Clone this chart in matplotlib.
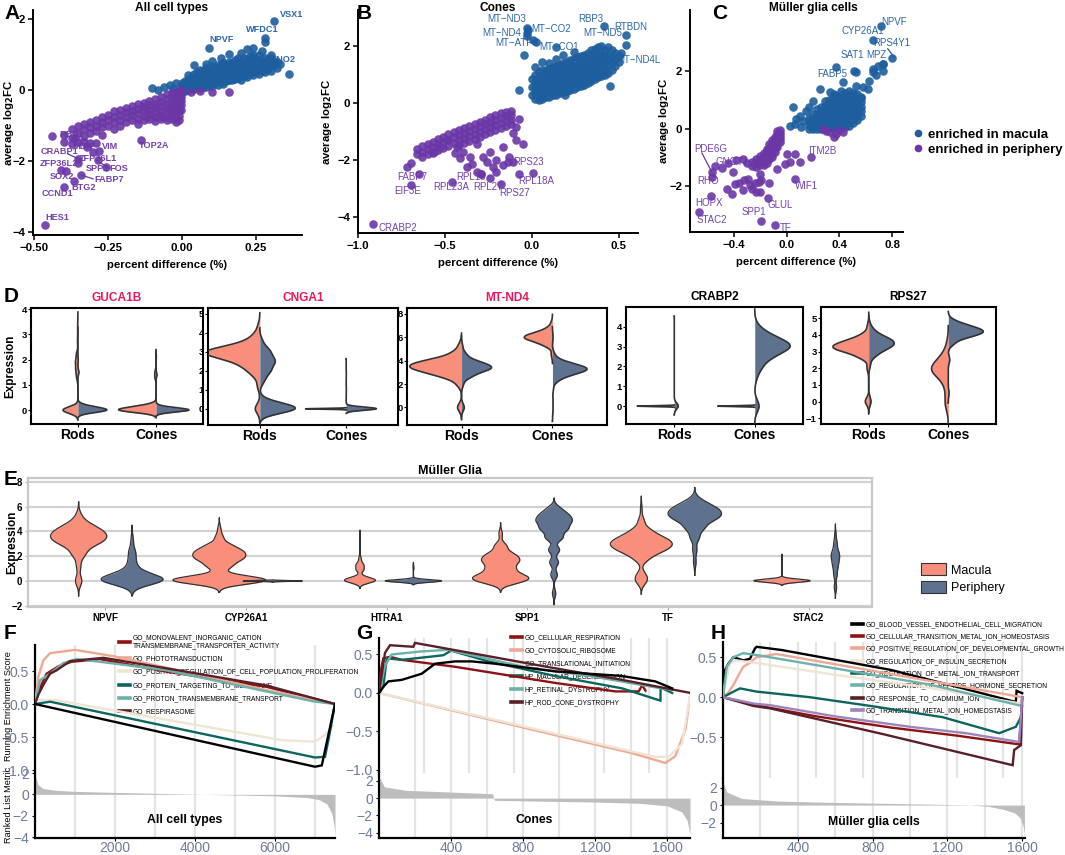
import numpy as np
import matplotlib
matplotlib.use("Agg")
import matplotlib.pyplot as plt
from matplotlib.lines import Line2D
from matplotlib.patches import Patch
from matplotlib.ticker import FuncFormatter, MultipleLocator

plt.rcParams['font.family'] = ['Liberation Sans', 'DejaVu Sans']

# ---------------------------------------------------------------- data: scatter A
A_MAC = {
    -0.10: [0.05], -0.08: [0.0], -0.06: [0.08], -0.04: [0.15], -0.03: [0.05], -0.02: [0.2],
    0.00: [-0.05, 0.05, 0.12, 0.2], 0.01: [-0.02, 0.08, 0.18, 0.26],
    0.02: [0.0, 0.1, 0.2, 0.3, 0.42], 0.03: [0.05, 0.15, 0.25, 0.35],
    0.04: [0.02, 0.12, 0.22, 0.32, 0.45, 0.72], 0.05: [0.08, 0.18, 0.28, 0.38, 0.5],
    0.06: [0.05, 0.15, 0.25, 0.35, 0.45, 0.58], 0.07: [0.1, 0.2, 0.3, 0.42, 0.55],
    0.08: [0.08, 0.18, 0.28, 0.38, 0.5, 0.62, 0.75], 0.09: [0.15, 0.25, 0.35, 0.45, 0.58, 1.2],
    0.10: [0.12, 0.22, 0.32, 0.42, 0.55, 0.68, 0.82], 0.11: [0.2, 0.3, 0.4, 0.5, 0.62],
    0.12: [0.15, 0.27, 0.37, 0.48, 0.6, 0.72], 0.13: [0.22, 0.34, 0.45, 0.56, 0.68, 0.9],
    0.14: [0.18, 0.3, 0.42, 0.52, 0.64, 0.78], 0.15: [0.25, 0.36, 0.48, 0.6, 0.72],
    0.16: [0.3, 0.42, 0.54, 0.66, 0.8, 1.02], 0.17: [0.28, 0.4, 0.52, 0.64, 0.76],
    0.18: [0.32, 0.45, 0.58, 0.7, 0.85], 0.19: [0.35, 0.5, 0.62, 0.75, 0.92],
    0.20: [0.3, 0.42, 0.55, 0.68, 0.8, 1.05], 0.21: [0.4, 0.52, 0.65, 0.78, 0.9],
    0.22: [0.38, 0.5, 0.62, 0.75, 0.88, 1.15], 0.23: [0.45, 0.58, 0.7, 0.82, 0.95],
    0.24: [0.42, 0.55, 0.68, 0.8, 1.0, 1.2], 0.25: [0.5, 0.62, 0.75, 0.88],
    0.26: [0.45, 0.6, 0.72, 0.85, 0.98], 0.27: [0.55, 0.7, 0.82, 1.1],
    0.28: [0.5, 0.65, 0.8, 0.92, 1.35, 1.48], 0.29: [0.6, 0.75, 0.88],
    0.30: [0.55, 0.72, 0.9, 1.0], 0.31: [0.7, 0.82, 1.95], 0.32: [0.62, 0.8],
    0.33: [0.75], 0.36: [0.45],
}
A_PER = {
    -0.463: [-3.81], -0.44: [-1.3], -0.41: [-2.25], -0.40: [-1.25, -1.45, -2.74],
    -0.39: [-2.27], -0.37: [-1.1, -1.35, -1.51], -0.366: [-2.55], -0.36: [-1.35],
    -0.35: [-1.0, -1.2, -1.45, -1.95, -2.05], -0.34: [-2.39], -0.33: [-0.95, -1.1, -1.3, -1.45],
    -0.32: [-1.6], -0.31: [-0.9, -1.05, -1.2, -1.5], -0.30: [-1.73], -0.29: [-0.85, -1.0, -1.15, -1.49],
    -0.285: [-1.96], -0.28: [-1.7], -0.27: [-0.75, -0.9, -1.05, -1.25], -0.255: [-2.15],
    -0.25: [-0.7, -0.85, -1.0], -0.23: [-0.6, -0.75, -0.9, -1.1], -0.21: [-0.55, -0.7, -0.85, -1.0],
    -0.19: [-0.5, -0.62, -0.75, -0.9], -0.17: [-0.45, -0.58, -0.7, -0.85],
    -0.15: [-0.4, -0.52, -0.65, -0.8, -0.95], -0.14: [-1.4], -0.13: [-0.35, -0.48, -0.6, -0.72, -0.85],
    -0.11: [-0.3, -0.42, -0.55, -0.68, -0.8], -0.09: [-0.25, -0.38, -0.5, -0.62, -0.75, -0.88],
    -0.07: [-0.2, -0.32, -0.45, -0.58, -0.7, -0.82], -0.05: [-0.12, -0.25, -0.38, -0.5, -0.62, -0.75, -0.85],
    -0.035: [-0.08, -0.2, -0.32, -0.45, -0.58, -0.7, -0.82],
    -0.02: [-0.05, -0.15, -0.28, -0.4, -0.52, -0.65, -0.78, -0.9],
    -0.01: [-0.02, -0.12, -0.22, -0.35, -0.48, -0.6, -0.72, -0.85],
    -0.003: [0.0, -0.1, -0.2, -0.3, -0.42, -0.55],
    0.03: [-0.05], 0.06: [-0.02], 0.10: [-0.05], 0.16: [-0.05],
}
A_MAC_GENES = [('VSX1', 0.33, 2.12), ('WFDC1', 0.217, 1.72), ('NPVF', 0.094, 1.44), ('ENO2', 0.298, 0.87)]
A_PER_GENES = [('RPL', -0.117, -0.79), ('RBP1', -0.415, -1.26), ('CRABP1', -0.476, -1.73),
               ('MDK', -0.37, -1.59), ('VIM', -0.269, -1.59), ('ZFP36L1', -0.347, -1.92),
               ('ZFP36L2', -0.479, -2.06), ('SPP1', -0.325, -2.22), ('FOS', -0.246, -2.22),
               ('SOX2', -0.445, -2.43), ('FABP7', -0.297, -2.53), ('BTG2', -0.375, -2.74),
               ('CCND1', -0.474, -2.9), ('HES1', -0.462, -3.6), ('TOP2A', -0.145, -1.56)]
A_LEADERS = [((-0.387, -1.79), (-0.348, -1.94)), ((-0.286, -1.99), (-0.246, -2.2)),
             ((-0.34, -2.39), (-0.30, -2.5))]

# ---------------------------------------------------------------- data: scatter B
B_MAC = {
    -0.072: [0.46], -0.045: [1.68], -0.03: [2.64, 2.45, 2.34], -0.02: [2.55], 0.004: [2.21],
    0.023: [2.15], 0.136: [1.98], 0.38: [2.77], 0.415: [2.69], 0.54: [2.39, 2.04], 0.51: [1.77],
    0.45: [0.6], 0.193: [0.28],
    0.00: [0.3, 0.55, 0.85], 0.02: [0.15, 0.35, 0.55, 0.75, 1.0, 1.25],
    0.04: [0.12, 0.3, 0.5, 0.7, 0.9, 1.1], 0.06: [0.15, 0.33, 0.52, 0.72, 0.92, 1.15, 1.45],
    0.08: [0.2, 0.38, 0.56, 0.75, 0.95, 1.15], 0.10: [0.22, 0.4, 0.6, 0.8, 1.0, 1.2, 1.4],
    0.12: [0.28, 0.46, 0.65, 0.85, 1.05, 1.25], 0.14: [0.3, 0.5, 0.7, 0.9, 1.1, 1.3, 1.55],
    0.16: [0.35, 0.55, 0.75, 0.95, 1.15, 1.35], 0.18: [0.38, 0.58, 0.78, 0.98, 1.18, 1.4, 1.7],
    0.20: [0.42, 0.62, 0.82, 1.02, 1.22, 1.45], 0.22: [0.45, 0.66, 0.86, 1.06, 1.26, 1.5],
    0.24: [0.5, 0.7, 0.9, 1.1, 1.3, 1.55, 1.8], 0.26: [0.55, 0.75, 0.95, 1.15, 1.35, 1.6],
    0.28: [0.6, 0.8, 1.0, 1.2, 1.4, 1.65], 0.30: [0.65, 0.85, 1.05, 1.25, 1.45, 1.7],
    0.32: [0.72, 0.92, 1.12, 1.32, 1.52, 1.75], 0.34: [0.78, 0.98, 1.18, 1.38, 1.6, 1.85],
    0.36: [0.85, 1.05, 1.25, 1.45, 1.65, 1.9], 0.38: [0.9, 1.1, 1.3, 1.5, 1.7, 1.95],
    0.40: [0.95, 1.15, 1.35, 1.55, 1.75, 2.0], 0.42: [1.0, 1.2, 1.45, 1.65, 1.85],
    0.44: [1.05, 1.3, 1.5, 1.7, 1.95], 0.46: [1.15, 1.4, 1.6, 1.85], 0.48: [1.3, 1.55, 1.75],
    0.50: [1.45, 1.65],
}
B_PER = {
    -0.915: [-4.25], -0.716: [-2.23], -0.697: [-2.09, -2.88], -0.65: [-2.47],
    -0.66: [-1.6, -1.8], -0.63: [-1.5, -1.7, -1.9], -0.60: [-1.45, -1.62, -1.8],
    -0.57: [-1.35, -1.55, -1.75], -0.564: [-1.71], -0.54: [-1.25, -1.45, -1.65], -0.527: [-1.53],
    -0.51: [-1.18, -1.38, -1.58], -0.489: [-1.30], -0.48: [-1.1, -1.3, -1.5], -0.46: [-2.76],
    -0.45: [-1.02, -1.2, -1.4], -0.441: [-1.76], -0.432: [-1.53], -0.42: [-0.95, -1.12, -1.3, -1.48],
    -0.413: [-1.94], -0.394: [-1.71], -0.39: [-0.88, -1.05, -1.22, -1.4], -0.375: [-2.23],
    -0.36: [-0.8, -0.98, -1.15, -1.32], -0.356: [-1.88], -0.347: [-2.12], -0.33: [-0.72, -0.9, -1.08, -1.25],
    -0.318: [-1.42, -2.41], -0.30: [-0.65, -0.82, -1.0, -1.18], -0.295: [-2.47], -0.29: [-2.47],
    -0.28: [-1.88], -0.27: [-0.58, -0.75, -0.92, -1.1], -0.261: [-2.06], -0.242: [-1.71, -2.64],
    -0.24: [-0.5, -0.68, -0.85, -1.02], -0.223: [-2.23], -0.21: [-0.42, -0.6, -0.78, -0.95],
    -0.205: [-2.0, -2.41], -0.18: [-0.35, -0.52, -0.7, -0.88], -0.176: [-2.82], -0.167: [-1.53, -2.18],
    -0.15: [-0.3, -0.46, -0.62, -0.8], -0.138: [-2.06], -0.129: [-1.88], -0.12: [-0.28, -0.42, -0.58, -0.75],
    -0.11: [-1.06, -2.06], -0.091: [-1.3, -0.83], -0.072: [-0.54, -2.47], -0.053: [-1.42], 0.004: [-2.44],
}
B_MAC_GENES = [('MT\u2212ND3', -0.258, 2.94), ('MT\u2212ND4', -0.284, 2.44), ('MT\u2212ATP6', -0.21, 2.09),
               ('MT\u2212CO2', -0.002, 2.58), ('MT\u2212CO1', 0.042, 1.98), ('RBP3', 0.265, 2.94),
               ('MT\u2212ND5', 0.293, 2.47), ('RTBDN', 0.473, 2.65), ('MT\u2212ND4L', 0.483, 1.51)]
B_PER_GENES = [('RPS23', -0.11, -2.08), ('FABP7', -0.777, -2.58), ('RPL19', -0.436, -2.58),
               ('RPL18A', -0.078, -2.73), ('RPL23A', -0.568, -2.94), ('RPL27', -0.337, -2.94),
               ('RPS27', -0.186, -3.14), ('EIF3E', -0.792, -3.09), ('CRABP2', -0.88, -4.36)]

# ---------------------------------------------------------------- data: scatter C
C_MAC = {
    0.023: [0.1], 0.048: [0.74], 0.06: [0.16], 0.073: [0.33], 0.098: [0.45], 0.11: [0.05],
    0.123: [0.28], 0.148: [0.63], 0.173: [0.74], 0.198: [0.97],
    0.17: [0.0, 0.12, 0.25, 0.38], 0.20: [-0.02, 0.1, 0.22, 0.35, 0.5],
    0.23: [0.0, 0.12, 0.25, 0.38, 0.52, 0.68], 0.249: [1.38],
    0.26: [-0.03, 0.08, 0.2, 0.32, 0.45, 0.6, 0.75], 0.29: [0.02, 0.14, 0.26, 0.38, 0.5, 0.64, 0.8, 0.95],
    0.32: [0.05, 0.17, 0.3, 0.43, 0.56, 0.7, 0.85, 1.0], 0.325: [1.26],
    0.35: [0.02, 0.14, 0.26, 0.4, 0.54, 0.68, 0.82, 0.98, 1.1], 0.362: [1.2], 0.375: [2.16],
    0.38: [0.05, 0.18, 0.3, 0.44, 0.58, 0.72, 0.86, 1.02, 1.15], 0.412: [0.97],
    0.41: [0.04, 0.16, 0.28, 0.42, 0.56, 0.7, 0.85, 1.0, 1.18, 1.3], 0.425: [1.61],
    0.44: [0.06, 0.2, 0.34, 0.48, 0.62, 0.77, 0.92, 1.08, 1.25],
    0.47: [0.1, 0.24, 0.38, 0.52, 0.66, 0.8, 0.95, 1.12, 1.3], 0.50: [0.2, 0.34, 0.48, 0.62, 0.78, 0.94, 1.1, 1.25],
    0.513: [1.99], 0.525: [1.5, 1.96], 0.53: [0.3, 0.45, 0.6, 0.75, 0.9, 1.05, 1.2],
    0.56: [0.45, 0.6, 0.75, 0.92, 1.08], 0.564: [1.09], 0.576: [1.44], 0.614: [1.38], 0.626: [1.67],
    0.65: [3.07], 0.652: [1.96, 2.08], 0.677: [1.85], 0.69: [2.19], 0.71: [3.59], 0.727: [2.25, 2.02],
    0.73: [2.26], 0.80: [2.45],
}
C_PER = {
    -0.66: [-2.9], -0.57: [-2.35], -0.566: [-1.52, -1.68], -0.54: [-1.3], -0.49: [-1.36],
    -0.45: [-2.1], -0.44: [-1.2], -0.41: [-2.27], -0.405: [-1.52], -0.39: [-1.93], -0.38: [-1.1],
    -0.36: [-1.88], -0.33: [-1.05, -2.15], -0.32: [-1.78], -0.30: [-1.2], -0.29: [-1.75],
    -0.28: [-1.97], -0.26: [-1.15, -1.3, -2.1], -0.24: [-1.88], -0.23: [-1.05, -1.2, -1.35, -2.2],
    -0.205: [-1.86], -0.20: [-0.95, -1.1, -1.25, -1.58, -2.2], -0.19: [-1.8, -3.2],
    -0.17: [-0.85, -0.98, -1.1, -1.25], -0.15: [-0.7, -0.82, -0.95, -1.08, -1.2],
    -0.14: [-2.41], -0.13: [-0.55, -0.68, -0.8, -0.92, -1.05, -1.88],
    -0.11: [-0.4, -0.52, -0.65, -0.78, -0.9, -1.0], -0.09: [-0.3, -0.42, -0.55, -0.68, -0.8, -3.36],
    -0.075: [-1.4], -0.07: [-0.1, -0.2, -0.3, -0.4, -0.52, -0.65], -0.05: [-0.05, -0.15, -0.25, -0.35, -0.45],
    -0.015: [-1.23], 0.0: [-0.88], 0.025: [-1.15], 0.06: [-1.75], 0.063: [-0.9], 0.10: [-1.17],
    0.185: [-1.0], 0.274: [-0.01], 0.30: [-0.1], 0.325: [-0.13], 0.362: [-0.3], 0.375: [-0.19],
    0.40: [-0.05], 0.425: [-0.13],
}
C_MAC_GENES = [('NPVF', 0.714, 3.70), ('CYP26A1', 0.418, 3.41), ('RPS4Y1', 0.652, 2.97),
               ('SAT1', 0.405, 2.58), ('MPZ', 0.60, 2.58), ('FABP5', 0.229, 1.91)]
C_PER_GENES = [('ITM2B', 0.166, -0.77), ('WIF1', 0.06, -1.99), ('GLUL', -0.141, -2.65),
               ('SPP1', -0.337, -2.91), ('TF', -0.053, -3.47), ('PDE6G', -0.70, -0.71),
               ('GNGT1', -0.536, -1.15), ('RHO', -0.672, -1.84), ('HOPX', -0.687, -2.60),
               ('STAC2', -0.68, -3.17)]
C_LEADERS = [((-0.64, -0.85), (-0.566, -1.5)), ((0.765, 2.78), (0.815, 2.47))]

# ---------------------------------------------------------------- data: violins D
D_GENES = ['GUCA1B', 'CNGA1', 'MT-ND4', 'CRABP2', 'RPS27']
D_CELLS = ['Rods', 'Cones']
D_DATA = {
    ('GUCA1B', 'Rods', 'Macula'): ([0, 1.3, 1.6, 1.9, 2.2, 2.7, 3.2, 3.5], [30, 2.5, 4, 4.5, 3, 0.8, 0.5, 0.4]),
    ('GUCA1B', 'Rods', 'Periphery'): ([0, 0.15, 1.5, 2.0, 3.0], [40, 10, 1.5, 0.5, 0.2]),
    ('GUCA1B', 'Cones', 'Macula'): ([0, 0.15, 1.3, 1.5, 2.1], [30, 10, 1, 1, 0.3]),
    ('GUCA1B', 'Cones', 'Periphery'): ([0, 0.1, 1.4, 2.1], [40, 8, 1.2, 0.3]),
    ('CNGA1', 'Rods', 'Macula'): ([0, 1.2, 1.8, 2.2, 2.6, 2.9, 3.1, 3.4, 3.8, 4.3], [1.2, 0.6, 1.5, 3, 5, 7, 6, 3, 1.5, 0.5]),
    ('CNGA1', 'Rods', 'Periphery'): ([0, 0.3, 1.5, 2.0, 2.5, 3.0, 3.5], [12, 3, 1.5, 3.5, 5, 3.5, 1]),
    ('CNGA1', 'Cones', 'Macula'): ([0], [1]),
    ('CNGA1', 'Cones', 'Periphery'): ([0, 0.08, 1.0, 1.8, 2.4], [50, 8, 0.3, 0.3, 0.2]),
    ('MT-ND4', 'Rods', 'Macula'): ([0, 2.0, 2.7, 3.2, 3.6, 4.0, 4.6, 5.3], [0.8, 0.8, 3, 5, 5.5, 4, 1.5, 0.5]),
    ('MT-ND4', 'Rods', 'Periphery'): ([0, 2.0, 2.7, 3.2, 3.5, 3.9, 4.5, 5.2], [1, 0.6, 3, 5, 6, 4, 1.5, 0.4]),
    ('MT-ND4', 'Cones', 'Macula'): ([4.5, 5.3, 5.7, 6.0, 6.3, 6.7, 7.2], [0.3, 1.5, 3, 4, 3, 1.2, 0.3]),
    ('MT-ND4', 'Cones', 'Periphery'): ([-0.3, 0.5, 1.5, 2.3, 2.8, 3.2, 3.5, 3.9, 4.5, 6.0], [0.15, 0.15, 0.2, 1, 3, 5, 4, 2, 0.5, 0.15]),
    ('CRABP2', 'Rods', 'Macula'): ([0], [1]),
    ('CRABP2', 'Rods', 'Periphery'): ([0, 0.05, 1, 2, 3, 4.1], [60, 10, 0.3, 0.3, 0.3, 0.3]),
    ('CRABP2', 'Cones', 'Macula'): ([0], [1]),
    ('CRABP2', 'Cones', 'Periphery'): ([0, 1.5, 2.0, 2.5, 2.9, 3.2, 3.6, 4.0], [1.2, 0.5, 1.5, 3, 5, 5, 2.5, 0.6]),
    ('RPS27', 'Rods', 'Macula'): ([0, 2.0, 2.7, 3.1, 3.4, 3.7, 4.0, 4.5], [0.8, 0.4, 2, 5, 5, 2.5, 1, 0.3]),
    ('RPS27', 'Rods', 'Periphery'): ([0, 2.2, 2.8, 3.2, 3.5, 3.8, 4.2, 4.6], [0.8, 0.5, 2, 4, 5, 4, 1.5, 0.4]),
    ('RPS27', 'Cones', 'Macula'): ([-0.3, 0.3, 1.0, 1.6, 2.0, 2.4, 2.9, 3.5], [1, 1, 1.5, 3.5, 4, 3, 1.5, 0.5]),
    ('RPS27', 'Cones', 'Periphery'): ([0.5, 2.5, 3.5, 3.9, 4.2, 4.5, 4.8], [0.15, 0.3, 1, 3, 5, 3, 1]),
}
D_SHAPE = {
    ('GUCA1B', 'Rods', 'Macula'): (0.13, 0.19), ('GUCA1B', 'Rods', 'Periphery'): (0.1, 0.37),
    ('GUCA1B', 'Cones', 'Macula'): (0.1, 0.48), ('GUCA1B', 'Cones', 'Periphery'): (0.08, 0.42),
    ('CNGA1', 'Rods', 'Macula'): (0.25, 0.63), ('CNGA1', 'Rods', 'Periphery'): (0.25, 0.41),
    ('CNGA1', 'Cones', 'Macula'): (0.02, 0.47), ('CNGA1', 'Cones', 'Periphery'): (0.08, 0.35),
    ('MT-ND4', 'Rods', 'Macula'): (0.35, 0.57), ('MT-ND4', 'Rods', 'Periphery'): (0.3, 0.33),
    ('MT-ND4', 'Cones', 'Macula'): (0.25, 0.31), ('MT-ND4', 'Cones', 'Periphery'): (0.3, 0.38),
    ('CRABP2', 'Rods', 'Macula'): (0.02, 0.46), ('CRABP2', 'Rods', 'Periphery'): (0.15, 0.05),
    ('CRABP2', 'Cones', 'Macula'): (0.02, 0.46), ('CRABP2', 'Cones', 'Periphery'): (0.3, 0.44),
    ('RPS27', 'Rods', 'Macula'): (0.22, 0.45), ('RPS27', 'Rods', 'Periphery'): (0.25, 0.32),
    ('RPS27', 'Cones', 'Macula'): (0.35, 0.21), ('RPS27', 'Cones', 'Periphery'): (0.2, 0.44),
}

# ---------------------------------------------------------------- data: violins E
E_GENES = ['NPVF', 'CYP26A1', 'HTRA1', 'SPP1', 'TF', 'STAC2']
E_DATA = {
    ('NPVF', 'Macula'): ([0, 1.2, 2.2, 3.0, 3.5, 4.0, 4.5, 5.2], [0.8, 0.5, 1.5, 3, 4, 3.5, 2, 0.6]),
    ('NPVF', 'Periphery'): ([0, 0.3, 0.8, 1.5, 2.3, 3.3], [5, 3, 1.2, 0.8, 0.8, 0.3]),
    ('CYP26A1', 'Macula'): ([0, 0.3, 1.2, 1.8, 2.3, 2.8, 3.5, 4.2], [5, 2, 1.5, 2.5, 2.5, 1.5, 0.5, 0.2]),
    ('CYP26A1', 'Periphery'): ([0], [1]),
    ('HTRA1', 'Macula'): ([0, 0.2, 0.9, 1.3, 1.8, 3.5], [4, 2, 1.2, 1.2, 0.4, 0.1]),
    ('HTRA1', 'Periphery'): ([0, 0.05, 1.0, 1.2], [30, 4, 0.5, 0.4]),
    ('SPP1', 'Macula'): ([0, 0.4, 1.0, 1.6, 2.1, 2.8, 3.8], [3, 3, 2, 2.5, 2, 1, 0.3]),
    ('SPP1', 'Periphery'): ([-1.0, 0.5, 1.5, 2.5, 3.5, 4.2, 4.8, 5.3, 5.8], [0.3, 0.6, 0.8, 1, 1.5, 2.2, 2.5, 2, 1]),
    ('TF', 'Macula'): ([0, 0.5, 1.8, 2.4, 2.9, 3.4, 4.0, 4.8, 5.8], [0.8, 0.6, 1, 2.5, 3.5, 3, 1.5, 0.5, 0.15]),
    ('TF', 'Periphery'): ([1.5, 2.5, 3.5, 4.3, 5.0, 5.5, 6.0, 6.5], [0.3, 0.5, 1, 2, 3.5, 4, 3, 1]),
    ('STAC2', 'Macula'): ([0, 0.1, 1.0, 1.8], [30, 8, 0.3, 0.2]),
    ('STAC2', 'Periphery'): ([-0.5, 0.5, 1.2, 1.8, 2.3, 3.0, 3.7], [0.5, 0.7, 1, 1.3, 1.2, 0.7, 0.3]),
}
E_SHAPE = {
    ('NPVF', 'Macula'): (0.4, 0.2), ('NPVF', 'Periphery'): (0.4, 0.22),
    ('CYP26A1', 'Macula'): (0.3, 0.33), ('CYP26A1', 'Periphery'): (0.03, 0.21),
    ('HTRA1', 'Macula'): (0.2, 0.11), ('HTRA1', 'Periphery'): (0.1, 0.2),
    ('SPP1', 'Macula'): (0.3, 0.2), ('SPP1', 'Periphery'): (0.3, 0.13),
    ('TF', 'Macula'): (0.35, 0.22), ('TF', 'Periphery'): (0.35, 0.19),
    ('STAC2', 'Macula'): (0.12, 0.2), ('STAC2', 'Periphery'): (0.3, 0.03),
}

# ---------------------------------------------------------------- data: GSEA
F_SETS = ['GO_MONOVALENT_INORGANIC_CATION\nTRANSMEMBRANE_TRANSPORTER_ACTIVITY', 'GO_PHOTOTRANSDUCTION',
          'GO_POSITIVE_REGULATION_OF_CELL_POPULATION_PROLIFERATION', 'GO_PROTEIN_TARGETING_TO_MEMBRANE',
          'GO_PROTON_TRANSMEMBRANE_TRANSPORT', 'GO_RESPIRASOME', None]
F_RANK = [
    [0, 83, 290, 583, 917, 1625, 3290, 5790, 7500],
    [0, 83, 208, 375, 1000, 2000, 4125, 5790, 7500],
    [0, 500, 6200, 7000, 7250, 7450],
    [0, 380, 7000, 7250, 7350, 7500],
    [0, 125, 375, 708, 1040, 1625, 3290, 5790, 6960, 7500],
    [0, 83, 208, 375, 540, 875, 1710, 3290, 5790, 7500],
    [0, 7000, 7170, 7500],
]
F_ES = [
    [0, 0.19, 0.46, 0.57, 0.64, 0.68, 0.49, 0.26, 0.0],
    [0, 0.41, 0.66, 0.77, 0.82, 0.72, 0.44, 0.21, 0.0],
    [0.06, 0.06, -0.55, -0.57, -0.47, -0.33],
    [0, 0.035, -0.81, -0.80, -0.5, 0.0],
    [0, 0.36, 0.46, 0.62, 0.68, 0.64, 0.51, 0.19, 0.04, 0.0],
    [0, 0.14, 0.29, 0.46, 0.51, 0.65, 0.70, 0.54, 0.28, 0.0],
    [0, -0.95, -0.93, 0.0],
]
F_METRIC_X = [0, 80, 200, 500, 1000, 2000, 3000, 4000, 5000, 6000, 6800, 7100, 7300, 7420, 7480, 7500]
F_METRIC_Y = [1.8, 0.9, 0.55, 0.38, 0.28, 0.18, 0.1, 0.02, -0.06, -0.14, -0.3, -0.5, -0.9, -1.8, -3.0, -4.0]

G_SETS = ['GO_CELLULAR_RESPIRATION', 'GO_CYTOSOLIC_RIBOSOME', 'GO_TRANSLATIONAL_INITIATION',
          'HP_MACULAR_DEGENERATION', 'HP_RETINAL_DYSTROPHY', 'HP_ROD_CONE_DYSTROPHY', None]
G_RANK = [
    [0, 11, 24, 61, 126, 422, 978, 1311, 1440, 1460, 1478],
    [0, 837, 1400, 1589, 1644, 1700, 1728],
    [0, 1533, 1607, 1681, 1728],
    [0, 24, 43, 126, 357, 400, 607, 978, 1348, 1561, 1562, 1626],
    [0, 33, 70, 237, 385, 800, 1170, 1540, 1626],
    [0, 11, 33, 61, 190, 200, 978, 1348, 1728],
    [0, 24, 52, 126, 237, 311, 422, 515, 644, 978, 1348, 1533, 1626],
]
G_ES = [
    [0, 0.30, 0.45, 0.47, 0.43, 0.34, 0.13, 0.02, 0.02, 0.10, 0.03],
    [0, -0.47, -0.78, -0.91, -0.82, -0.47, 0.0],
    [0, -0.83, -0.83, -0.66, 0.0],
    [0, 0.08, 0.45, 0.43, 0.49, 0.55, 0.41, 0.22, 0.06, -0.10, 0.07, 0.0],
    [0, 0.35, 0.50, 0.54, 0.56, 0.34, 0.22, 0.07, 0.04],
    [0, 0.17, 0.52, 0.62, 0.60, 0.65, 0.32, 0.17, 0.0],
    [0, 0.08, 0.15, 0.17, 0.25, 0.38, 0.41, 0.41, 0.38, 0.28, 0.22, 0.15, 0.06],
]
G_METRIC_X = [0, 30, 150, 400, 630, 640, 900, 1200, 1450, 1600, 1680, 1710, 1725]
G_METRIC_Y = [2.5, 1.3, 0.9, 0.7, 0.5, -0.25, -0.35, -0.45, -0.6, -0.9, -1.6, -2.6, -4.2]

H_SETS = ['GO_BLOOD_VESSEL_ENDOTHELIAL_CELL_MIGRATION', 'GO_CELLULAR_TRANSITION_METAL_ION_HOMEOSTASIS',
          'GO_POSITIVE_REGULATION_OF_DEVELOPMENTAL_GROWTH', 'GO_REGULATION_OF_INSULIN_SECRETION',
          'GO_REGULATION_OF_METAL_ION_TRANSPORT', 'GO_REGULATION_OF_PEPTIDE_HORMONE_SECRETION',
          'GO_RESPONSE_TO_CADMIUM_ION', 'GO_TRANSITION_METAL_ION_HOMEOSTASIS']
H_RANK = [
    [0, 11, 29, 55, 108, 144, 171, 180, 313, 900, 1566, 1570, 1600],
    [0, 176, 500, 900, 1250, 1584, 1600],
    [0, 29, 55, 82, 108, 144, 180, 286, 800, 1211, 1600],
    [0, 38, 73, 200, 600, 1100, 1593],
    [0, 73, 91, 180, 464, 820, 1175, 1477, 1566, 1593],
    [0, 20, 55, 108, 200, 600, 1100, 1600],
    [0, 164, 253, 853, 1549, 1557, 1593, 1600],
    [0, 164, 253, 600, 1000, 1300, 1584, 1600],
]
H_ES = [
    [0.0, 0.34, 0.42, 0.50, 0.46, 0.48, 0.61, 0.63, 0.59, 0.34, -0.06, 0.08, 0.05],
    [0.0, -0.10, -0.24, -0.38, -0.48, -0.59, 0.0],
    [0.0, 0.06, 0.15, 0.27, 0.38, 0.43, 0.50, 0.54, 0.33, 0.16, 0.0],
    [0.05, 0.42, 0.46, 0.42, 0.28, 0.12, -0.08],
    [0.0, 0.09, 0.11, 0.07, 0.0, -0.12, -0.25, -0.45, -0.37, -0.25],
    [0.0, 0.38, 0.50, 0.55, 0.52, 0.36, 0.16, -0.11],
    [0.0, -0.11, -0.14, -0.46, -0.85, -0.66, -0.60, 0.0],
    [0.0, -0.08, -0.10, -0.24, -0.37, -0.45, -0.56, 0.0],
]
H_METRIC_X = [0, 20, 100, 300, 600, 1000, 1300, 1420, 1500, 1560, 1590, 1605, 1612]
H_METRIC_Y = [2.6, 1.5, 0.75, 0.45, 0.3, 0.15, 0.03, -0.15, -0.5, -0.9, -1.5, -2.4, -3.4]

# ---------------------------------------------------------------- styles
BLUE, PURPLE = '#1d5e9e', '#6b36a6'
BLUE_T, PURPLE_T = '#2a68aa', '#7341ae'
MAC_C, PER_C = '#f98f7b', '#5e7290'
EDGE = '#333333'
SLATE = '#6d7b99'
F_COL = ['#8e1212', '#f0a892', '#eee5d2', '#0d6560', '#6cb1ab', '#5a2028', '#000000']
G_COL = ['#8e1212', '#f0a892', '#eee5d2', '#0d6560', '#6cb1ab', '#5a2028', '#000000']
H_COL = ['#000000', '#8e1212', '#f0a892', '#eee5d2', '#0d6560', '#6cb1ab', '#5a2028', '#9c84bf']

W, H = 1065, 855
fig = plt.figure(figsize=(W / 100, H / 100), dpi=100)


def add_ax(l, t, r, b):
    return fig.add_axes([l / W, 1 - b / H, (r - l) / W, (b - t) / H])


def mfmt(dec):
    return FuncFormatter(lambda v, p: (f'{v:.{dec}f}').replace('-', '\u2212'))


def unpack(d):
    xs, ys = [], []
    for x, yl in d.items():
        for y in yl:
            xs.append(x)
            ys.append(y)
    return xs, ys


def scatter_panel(ax, mac, per, mac_genes, per_genes, leaders, xlim, ylim, xticks, yticks, xdec,
                  title, title_x, ylab_x, bold_labels, fs_lab):
    for d, c in ((mac, BLUE), (per, PURPLE)):
        xs, ys = unpack(d)
        ax.scatter(xs, ys, s=38, color=c, alpha=0.9, lw=0, zorder=3)
    w = 'bold' if bold_labels else 'normal'
    for genes, c in ((mac_genes, BLUE_T), (per_genes, PURPLE_T)):
        for g, tx, ty in genes:
            ax.text(tx, ty, g, color=c, fontsize=fs_lab, fontweight=w, ha='left', va='center', zorder=2)
    for (x0, y0), (x1, y1) in leaders:
        ax.plot([x0, x1], [y0, y1], color=PURPLE if y1 < 0 else BLUE, lw=0.9, zorder=4)
    ax.set_xlim(*xlim)
    ax.set_ylim(*ylim)
    ax.set_xticks(xticks)
    ax.set_yticks(yticks)
    ax.xaxis.set_major_formatter(mfmt(xdec))
    ax.yaxis.set_major_formatter(mfmt(0))
    for s in ('top', 'right'):
        ax.spines[s].set_visible(False)
    for s in ('left', 'bottom'):
        ax.spines[s].set_linewidth(1.4)
    ax.tick_params(width=1.1, length=3.5, labelsize=8.2, pad=2)
    for t in ax.get_xticklabels() + ax.get_yticklabels():
        t.set_fontweight('bold')
    ax.set_xlabel('percent difference (%)', fontsize=8.2, fontweight='bold', labelpad=5)
    ax.set_ylabel('average log$_\\mathbf{2}$FC', fontsize=8.2, fontweight='bold')
    bb = ax.get_position()
    ax.yaxis.set_label_coords((ylab_x / W - bb.x0) / bb.width, 0.5)
    fig.text(title_x / W, 1 - 8 / H, title, fontsize=8.6, fontweight='bold', ha='center', va='center')


axA = add_ax(33, 10, 302, 235)
scatter_panel(axA, A_MAC, A_PER, A_MAC_GENES, A_PER_GENES, A_LEADERS, (-0.503, 0.405), (-4.08, 2.26),
              [-0.5, -0.25, 0.0, 0.25], [-4, -2, 0, 2], 2, 'All cell types', 172, 16, True, 6.6)
axB = add_ax(358, 10, 638, 233)
scatter_panel(axB, B_MAC, B_PER, B_MAC_GENES, B_PER_GENES, [], (-1.0, 0.61), (-4.55, 3.26),
              [-1.0, -0.5, 0.0, 0.5], [-4, -2, 0, 2], 1, 'Cones', 498, 334, False, 7.0)
axC = add_ax(690, 10, 903, 232)
scatter_panel(axC, C_MAC, C_PER, C_MAC_GENES, C_PER_GENES, C_LEADERS, (-0.73, 0.88), (-3.6, 4.13),
              [-0.4, 0.0, 0.4, 0.8], [-2, 0, 2], 1, 'M\u00fcller glia cells', 813, 671, False, 7.0)
handles = [Line2D([], [], marker='o', ls='', color=BLUE, markersize=4.5),
           Line2D([], [], marker='o', ls='', color=PURPLE, markersize=4.5)]
fig.legend(handles, ['enriched in macula', 'enriched in periphery'], loc='upper left',
           bbox_to_anchor=(900 / W, 1 - 117 / H), frameon=False, handletextpad=0.2,
           labelspacing=0.2, prop={'size': 9.5, 'weight': 'bold'}, handlelength=1.0)


# ---------------------------------------------------------------- violins
def density(vals, cnts, bw):
    v = np.asarray(vals, float)
    c = np.asarray(cnts, float)
    grid = np.linspace(v.min() - 3 * bw, v.max() + 3 * bw, 400)
    d = (c[:, None] * np.exp(-0.5 * ((grid[None, :] - v[:, None]) / bw) ** 2)).sum(0)
    return grid, d / d.max()


def half_violin(ax, pos, side, vals, cnts, bw, width, color, lw):
    g, d = density(vals, cnts, bw)
    xs = pos + side * d * width
    ax.fill_betweenx(g, pos, xs, color=color, lw=0, zorder=2)
    ax.plot(np.r_[pos, xs, pos], np.r_[g[0], g, g[-1]], color=EDGE, lw=lw, zorder=3)


def full_violin(ax, pos, vals, cnts, bw, width, color, lw):
    g, d = density(vals, cnts, bw)
    ax.fill_betweenx(g, pos - d * width, pos + d * width, color=color, lw=0, zorder=2)
    ax.plot(np.r_[pos - d * width, (pos + d * width)[::-1], pos - d[0] * width],
            np.r_[g, g[::-1], g[0]], color=EDGE, lw=lw, zorder=3)


D_RECTS = [(31, 308, 203, 424), (208, 308, 398, 425), (407, 308, 607, 425), (626, 307, 803, 424),
           (821, 307, 996, 424)]
D_YLIM = [(-0.55, 4.05), (-0.85, 5.3), (-1.5, 8.5), (-0.9, 5.0), (-1.35, 5.67)]
D_YTICKS = [[0, 1, 2, 3, 4], [0, 1, 2, 3, 4, 5], [0, 2, 4, 6, 8], [0, 1, 2, 3, 4], [-1, 0, 1, 2, 3, 4, 5]]
D_TCOL = ['#e8185a', '#e8185a', '#e8185a', 'black', 'black']
for i, gname in enumerate(D_GENES):
    ax = add_ax(*D_RECTS[i])
    for j, cell in enumerate(D_CELLS):
        for reg, side, col in (('Macula', -1, MAC_C), ('Periphery', 1, PER_C)):
            vals, cnts = D_DATA[(gname, cell, reg)]
            bw, wd = D_SHAPE[(gname, cell, reg)]
            half_violin(ax, j + 1, side, vals, cnts, bw, wd, col, 1.2)
    ax.set_xlim(0.4, 2.6)
    ax.set_ylim(*D_YLIM[i])
    ax.set_yticks(D_YTICKS[i])
    ax.set_xticks([1, 2])
    ax.set_xticklabels(D_CELLS, fontsize=10, fontweight='bold')
    ax.tick_params(axis='y', labelsize=6.8, length=2, pad=1)
    ax.tick_params(axis='x', length=2, pad=1)
    ax.yaxis.set_major_formatter(mfmt(0))
    for t in ax.get_yticklabels():
        t.set_fontweight('bold')
    for s in ax.spines.values():
        s.set_linewidth(1.5)
    ax.set_title(gname, fontsize=8.6, fontweight='bold', color=D_TCOL[i], pad=5)
    if i == 0:
        ax.set_ylabel('Expression', fontsize=8.5, fontweight='bold', labelpad=4)

axE = add_ax(28, 478, 872, 607)
for i, gname in enumerate(E_GENES):
    for reg, off, col in (('Macula', -0.19, MAC_C), ('Periphery', 0.19, PER_C)):
        vals, cnts = E_DATA[(gname, reg)]
        bw, wd = E_SHAPE[(gname, reg)]
        full_violin(axE, i + 1 + off, vals, cnts, bw, wd, col, 0.9)
axE.set_xlim(0.45, 6.45)
axE.set_ylim(-2.1, 8.3)
axE.set_yticks([-2, 0, 2, 4, 6, 8])
axE.yaxis.set_major_formatter(mfmt(0))
axE.set_xticks(range(1, 7))
axE.set_xticklabels(E_GENES, fontsize=6.8, fontweight='bold')
axE.grid(axis='y', color='#d2d2d2', lw=1.6, zorder=0)
axE.set_axisbelow(True)
for s in axE.spines.values():
    s.set_color('#c8c8c8')
    s.set_linewidth(1.6)
axE.tick_params(axis='both', length=2, color='#b0b0b0', labelsize=7, pad=2)
for t in axE.get_yticklabels():
    t.set_fontweight('bold')
axE.set_ylabel('Expression', fontsize=8.5, fontweight='bold')
axE.yaxis.set_label_coords((18 - 28) / 844, 0.5)
axE.set_title('M\u00fcller Glia', fontsize=9, fontweight='bold', pad=3)
fig.legend([Patch(facecolor=MAC_C, edgecolor=EDGE, lw=0.8), Patch(facecolor=PER_C, edgecolor=EDGE, lw=0.8)],
           ['Macula', 'Periphery'], loc='upper left', bbox_to_anchor=(910 / W, 1 - 552 / H), frameon=False,
           prop={'size': 9}, handlelength=2.0, handleheight=1.1, labelspacing=0.35,
           handletextpad=0.4)


# ---------------------------------------------------------------- GSEA
def gsea(rect_up, rect_lo, sets, ranks, es, cols, mx, my, xlim, ylim_up, ylim_lo, yt_up, yt_lo,
         xt, grid_step, leg_anchor, leg_fs, leg_ls, label):
    au = add_ax(*rect_up)
    al = add_ax(*rect_lo)
    for ax in (au, al):
        ax.set_xlim(*xlim)
        ax.xaxis.set_minor_locator(MultipleLocator(grid_step))
        ax.grid(axis='x', which='both', color='#e4e4e4', lw=1.6, zorder=0)
        ax.set_axisbelow(True)
        ax.spines['top'].set_visible(False)
        ax.spines['right'].set_visible(False)
        ax.spines['left'].set_linewidth(1.6)
        ax.tick_params(axis='y', labelcolor=SLATE, labelsize=10, length=2.5, width=0.8, pad=2)
        ax.tick_params(axis='x', which='minor', length=0)
    hs, ls = [], []
    for name, xr, yv, c in zip(sets, ranks, es, cols):
        ln, = au.plot(xr, yv, color=c, lw=1.7, zorder=3, solid_joinstyle='miter')
        if name is not None:
            hs.append(ln)
            ls.append(name)
    au.set_ylim(*ylim_up)
    au.set_yticks(yt_up)
    au.yaxis.set_major_formatter(mfmt(1))
    au.spines['bottom'].set_visible(False)
    au.tick_params(axis='x', which='both', bottom=False, labelbottom=False)
    al.fill_between(mx, 0, my, color='#bdbdbd', lw=0, zorder=2)
    al.set_ylim(*ylim_lo)
    al.set_yticks(yt_lo)
    al.yaxis.set_major_formatter(mfmt(0))
    al.set_xticks(xt)
    al.spines['bottom'].set_linewidth(1.6)
    al.tick_params(axis='x', labelcolor=SLATE, labelsize=10, length=2, width=0.8, pad=0.5)
    leg = au.legend(hs, ls, loc='upper left', bbox_to_anchor=leg_anchor, bbox_transform=fig.transFigure,
                    frameon=False, prop={'size': leg_fs}, handlelength=1.6,
                    handletextpad=0.4, labelspacing=leg_ls, borderaxespad=0, borderpad=0)
    for h in leg.get_lines():
        h.set_linewidth(2.6)
    leg.set_zorder(1)
    al.text(0.5, 0.27, label, transform=al.transAxes, ha='center', va='center', fontsize=8.8,
            fontweight='bold')
    return au, al


gsea((35, 645, 335, 773), (35, 773, 335, 838), F_SETS, F_RANK, F_ES, F_COL, F_METRIC_X, F_METRIC_Y,
     (0, 7500), (-1.045, 0.894), (-4.09, 2.0), [-1.0, -0.5, 0.0, 0.5], [-4, -2, 0, 2],
     [2000, 4000, 6000], 1000, (119 / W, 1 - 634 / H), 4.8, 0.95, 'All cell types')
gsea((379, 638, 690, 773), (379, 773, 690, 838), G_SETS, G_RANK, G_ES, G_COL, G_METRIC_X, G_METRIC_Y,
     (0, 1725), (-1.04, 0.714), (-4.6, 2.9), [-1.0, -0.5, 0.0, 0.5], [-4, -2, 0, 2],
     [400, 800, 1200, 1600], 200, (511 / W, 1 - 634 / H), 4.8, 0.92, 'Cones')
gsea((723, 642, 1025, 778), (723, 778, 1025, 838), H_SETS, H_RANK, H_ES, H_COL, H_METRIC_X, H_METRIC_Y,
     (0, 1615), (-1.01, 0.69), (-3.77, 3.1), [-0.5, 0.0, 0.5], [-2, 0, 2],
     [400, 800, 1200, 1600], 200, (852 / W, 1 - 621 / H), 4.8, 0.8, 'M\u00fcller glia cells')

fig.text(9 / W, 1 - 706 / H, 'Running Enrichment Score', rotation=90, ha='center', va='center', fontsize=6.6)
fig.text(9 / W, 1 - 805 / H, 'Ranked List Metric', rotation=90, ha='center', va='center', fontsize=6.6)

# panel letters
for letter, x, y in (('A', 4, 4), ('B', 357, 4), ('C', 712, 4), ('D', 4, 287), ('E', 4, 470),
                     ('F', 4, 624), ('G', 356, 624), ('H', 711, 624)):
    fig.text(x / W, 1 - y / H, letter, fontsize=15, fontweight='bold', ha='left', va='top')

fig.savefig('out.png', dpi=100)
